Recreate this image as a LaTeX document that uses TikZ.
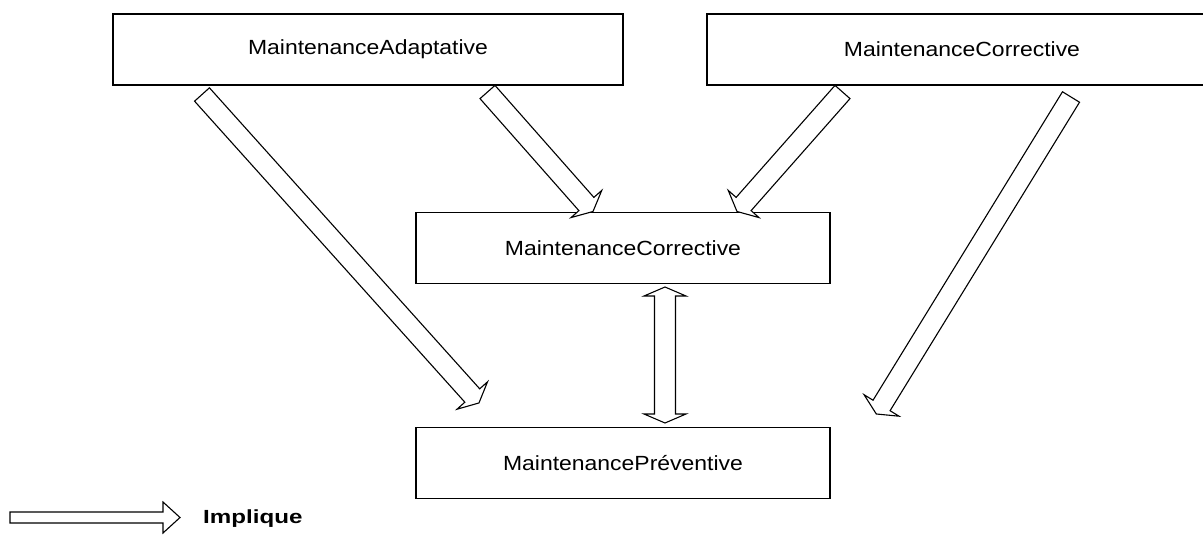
\documentclass[tikz,border=0pt]{standalone}
\usepackage{fontspec}
\usetikzlibrary{calc}
\newfontfamily\boxfont[FakeStretch=1.12]{Liberation Sans}
\newfontfamily\legfont[FakeStretch=1.27]{Liberation Sans}

\tikzset{
  classbox/.style={draw, line width=1.3pt, rectangle, inner sep=0pt,
    minimum width=#1, minimum height=71pt,
    font=\boxfont\fontsize{20.5}{23}\selectfont},
  classbox/.default=414pt,
  blockline/.style={draw, line width=1.1pt, fill=white, line join=miter},
}

% hollow block arrow from tail coordinate #1 to tip coordinate #2
\newcommand\blockarrow[2]{%
  \pgfpointdiff{\pgfpointanchor{#1}{center}}{\pgfpointanchor{#2}{center}}%
  \pgfgetlastxy\bax\bay
  \pgfmathsetmacro\barang{atan2(\bay,\bax)}%
  \pgfmathsetmacro\barlen{veclen(\bax,\bay)}%
  \begin{scope}[shift={(#1)}, rotate=\barang, x=1pt, y=1pt]
    \draw[blockline] (0,-10) -- (\barlen-10,-10) -- (\barlen-10,-20.5)
      -- (\barlen,0) -- (\barlen-10,20.5) -- (\barlen-10,10) -- (0,10) -- cycle;
  \end{scope}
}

% hollow double-headed block arrow between tips #1 and #2
\newcommand\dblockarrow[2]{%
  \pgfpointdiff{\pgfpointanchor{#1}{center}}{\pgfpointanchor{#2}{center}}%
  \pgfgetlastxy\bax\bay
  \pgfmathsetmacro\barang{atan2(\bay,\bax)}%
  \pgfmathsetmacro\barlen{veclen(\bax,\bay)}%
  \begin{scope}[shift={(#1)}, rotate=\barang, x=1pt, y=1pt]
    \draw[blockline] (0,0) -- (9,-21) -- (9,-10.5) -- (\barlen-9,-10.5)
      -- (\barlen-9,-21) -- (\barlen,0) -- (\barlen-9,21) -- (\barlen-9,10.5)
      -- (9,10.5) -- (9,21) -- cycle;
  \end{scope}
}

\begin{document}
\begin{tikzpicture}[x=1pt, y=-1pt]
  \useasboundingbox (0,0) rectangle (1203,538);

  % classes
  \node[classbox=510pt] (adapt) at (368,49.5) {MaintenanceAdaptative};
  \node[classbox=510pt] (corrtop) at (962,49.5) {MaintenanceCorrective};
  \node[classbox] (corrmid) at (623,248) {MaintenanceCorrective};
  \node[classbox] (prev) at (623,463) {MaintenancePréventive};

  % arrow ends
  \coordinate (aS) at (202,94.5);
  \coordinate (aT) at (479,403);
  \coordinate (bS) at (487.5,92);
  \coordinate (bT) at (593,211.5);
  \coordinate (cS) at (842.5,92);
  \coordinate (cT) at (737,211.5);
  \coordinate (dS) at (1071,97);
  \coordinate (dT) at (876.3,414);
  \coordinate (eS) at (665,287);
  \coordinate (eT) at (665,423);

  \blockarrow{aS}{aT}
  \blockarrow{bS}{bT}
  \blockarrow{cS}{cT}
  \blockarrow{dS}{dT}
  \dblockarrow{eS}{eT}

  % legend
  \coordinate (legS) at (10,517.5);
  \coordinate (legT) at (180,517.5);
  \draw[blockline] ($(legS)+(0,-5.5)$) -- ($(legT)+(-17,-5.5)$)
    -- ($(legT)+(-17,-15.5)$) -- (legT) -- ($(legT)+(-17,15.5)$)
    -- ($(legT)+(-17,5.5)$) -- ($(legS)+(0,5.5)$) -- cycle;
  \node[anchor=west, inner sep=0pt, font=\legfont\bfseries\fontsize{19}{21}\selectfont]
    (legtext) at (203,519) {Implique};
\end{tikzpicture}
\end{document}
